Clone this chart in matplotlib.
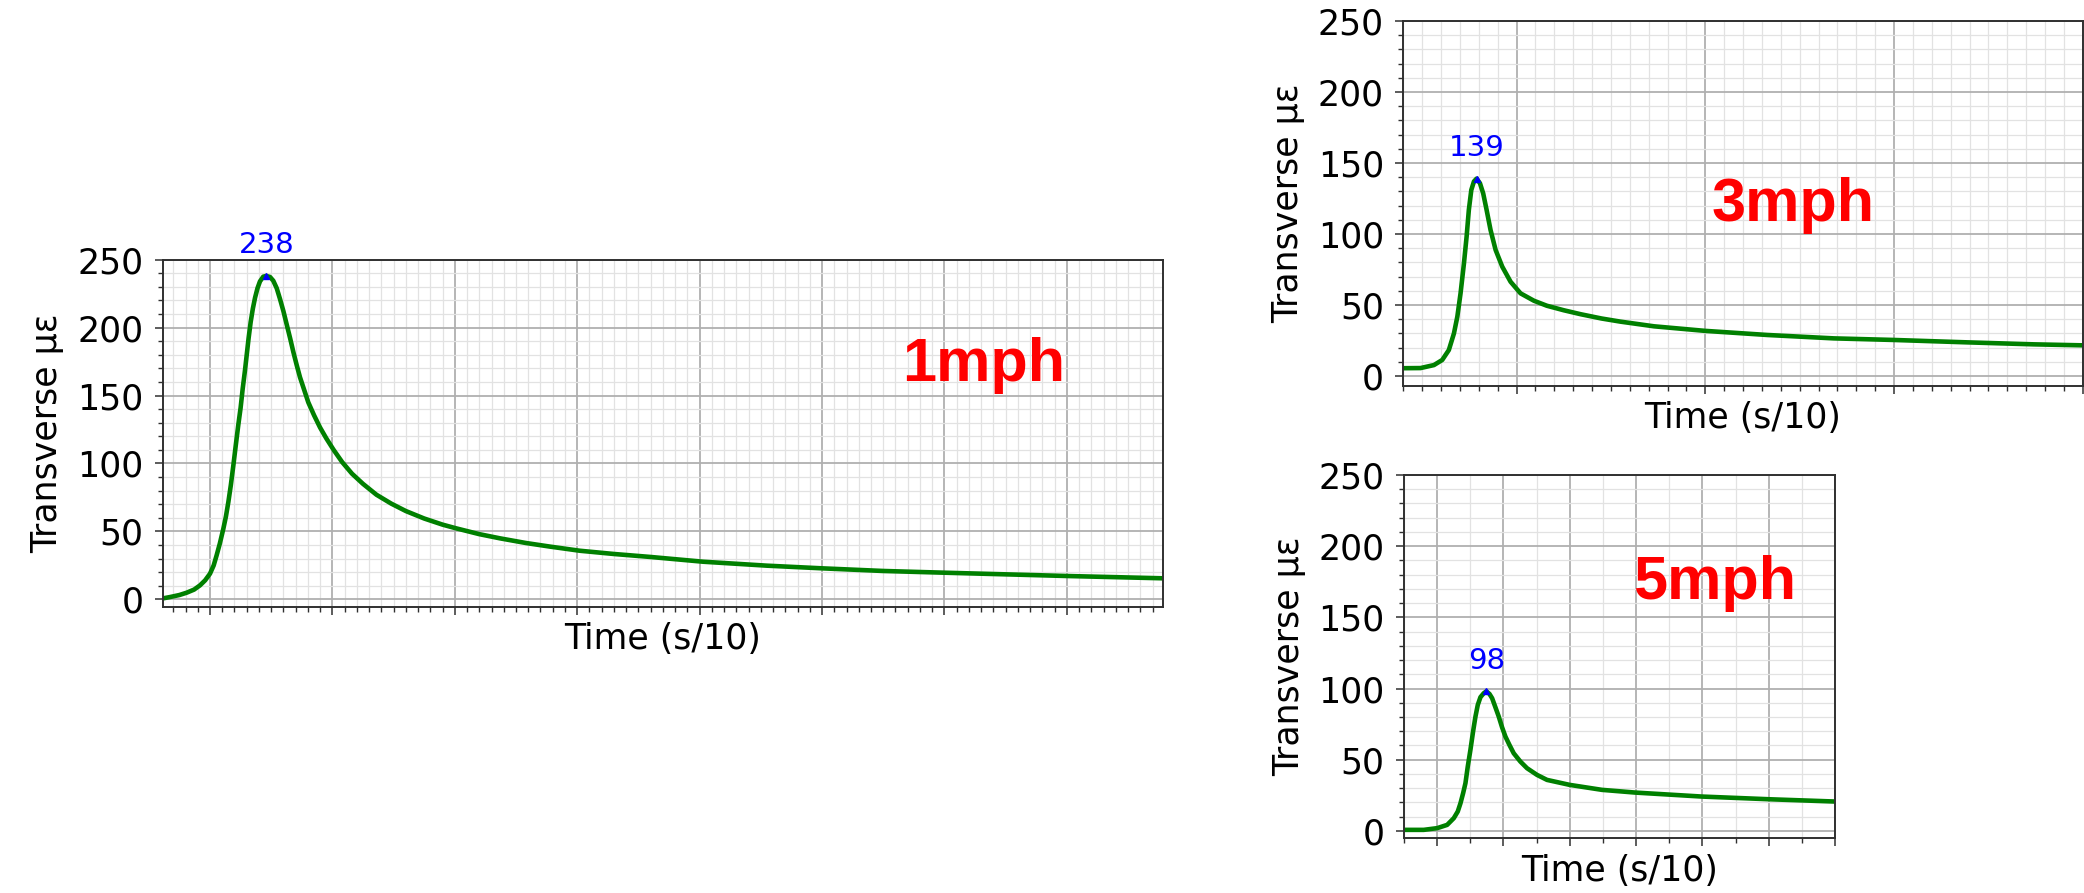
import matplotlib.pyplot as plt
from matplotlib.ticker import MultipleLocator
import numpy as np

plt.rcParams['font.family'] = 'DejaVu Sans'

# values (time in s/10, strain in micro-strain)
time_1mph = [0.614, 0.673, 0.75, 0.809, 0.87, 0.918, 0.96, 1.0, 1.03, 1.054,
             1.08, 1.109, 1.13, 1.15, 1.17, 1.191, 1.21, 1.231, 1.25, 1.267,
             1.285, 1.30, 1.315, 1.332, 1.35, 1.368, 1.388, 1.408, 1.435, 1.46,
             1.49, 1.517, 1.545, 1.572, 1.60, 1.626, 1.655, 1.681, 1.708, 1.735,
             1.77, 1.803, 1.85, 1.899, 1.95, 2.01, 2.08, 2.16, 2.25, 2.36,
             2.48, 2.6, 2.75, 2.9, 3.01, 3.2, 3.37, 3.58, 3.78, 4.02,
             4.3, 4.6, 5.03, 5.55, 6.01, 6.5, 7.01, 7.59, 8.0, 8.788]
strain_1mph = [0.7, 1.7, 3.2, 4.9, 7.2, 10.3, 14, 18.9, 25, 32.4,
               41, 52, 61, 71.7, 84, 98.8, 113, 128.3, 141, 155,
               168, 180, 192, 204, 214, 222, 229, 234, 237.5, 238,
               237.3, 234.5, 229, 221, 212, 202.5, 192, 182, 172.5, 163.5,
               154, 145, 135.5, 126.5, 118.5, 110, 101, 92.5, 85, 77,
               70.5, 65, 59.5, 55, 52.3, 48, 44.9, 41.5, 38.8, 35.8,
               33.4, 31.2, 27.7, 24.8, 22.8, 20.9, 19.6, 18.2, 17.2, 15.5]

time_3mph = [0.4, 0.491, 0.562, 0.606, 0.641, 0.668, 0.686, 0.703, 0.721, 0.735,
             0.747, 0.760, 0.774, 0.788, 0.806, 0.823, 0.841, 0.862, 0.889, 0.924,
             0.968, 1.021, 1.092, 1.16, 1.25, 1.34, 1.45, 1.55, 1.728, 1.998,
             2.328, 2.681, 2.996, 3.388, 3.741, 4.0]
strain_3mph = [5.5, 5.6, 7.7, 11.3, 18.3, 30, 41.8, 58.2, 79.3, 98,
               117, 131, 137, 139, 135.7, 128.6, 117, 102.8, 88.7, 77,
               66.4, 58.2, 53, 49.5, 46.3, 43.5, 40.5, 38.3, 35, 31.8,
               28.9, 26.5, 25.4, 23.7, 22.3, 21.6]

time_5mph = [0.5, 0.798, 1.0, 1.151, 1.251, 1.311, 1.352, 1.392, 1.427, 1.462,
             1.502, 1.542, 1.578, 1.613, 1.653, 1.703, 1.743, 1.789, 1.829, 1.879,
             1.929, 1.979, 2.03, 2.09, 2.155, 2.255, 2.356, 2.507, 2.657, 2.999,
             3.486, 3.987, 4.992, 6.01, 7.0]
strain_5mph = [0.7, 0.7, 1.9, 4.2, 8.9, 13.6, 19.4, 26.5, 33.5, 45.2,
               56.9, 69.8, 80.3, 88.5, 93.9, 96.7, 98, 96.2, 93.2, 86.8,
               80.3, 72.8, 66.2, 60.4, 54.5, 48.7, 44, 39.3, 35.8, 32.3,
               28.8, 26.9, 24.1, 22.2, 20.6]

fig = plt.figure(figsize=(20.84, 8.93), dpi=100)


def strain_panel(rect, t, strain, speed, xlim, ybottom, xminor, label_xy):
    ax = fig.add_axes(rect)
    ax.plot(t, strain, color='green', lw=3.3, solid_joinstyle='round')

    i = int(np.argmax(strain))
    ax.plot(t[i], strain[i], '^', color='blue', ms=5)
    ax.annotate(f'{strain[i]:.0f}', (t[i], strain[i]), xytext=(0, 12),
                textcoords='offset points', ha='center', va='bottom',
                color='blue', fontsize=21)

    ax.set_xlim(*xlim)
    ax.set_ylim(ybottom, 250)
    ax.xaxis.set_major_locator(MultipleLocator(1))
    ax.xaxis.set_minor_locator(MultipleLocator(xminor))
    ax.yaxis.set_major_locator(MultipleLocator(50))
    ax.yaxis.set_minor_locator(MultipleLocator(10))

    ax.grid(which='major', color='#b0b0b0', lw=1.3)
    ax.grid(which='minor', color='#e2e2e2', lw=0.9)
    ax.set_axisbelow(True)

    ax.tick_params(labelbottom=False)
    ax.tick_params(which='major', length=6, width=1.1, labelsize=25, pad=8,
                   color='#303030')
    ax.tick_params(which='minor', length=3.6, width=1, color='#303030')
    for s in ax.spines.values():
        s.set_linewidth(1.4)
        s.set_color('#303030')

    ax.set_xlabel('Time (s/10)', fontsize=25)
    ax.set_ylabel('Transverse με', fontsize=25, labelpad=9)
    ax.text(label_xy[0], label_xy[1], speed, transform=ax.transAxes,
            color='red', fontsize=44, fontweight='bold',
            family='Liberation Sans', ha='left', va='baseline')
    return ax


strain_panel([0.0781, 0.3206, 0.4801, 0.3886], time_1mph, strain_1mph, '1mph',
             (0.614, 8.788), -5.4, 0.1, (0.739, 0.649))
strain_panel([0.6734, 0.5678, 0.3260, 0.4087], time_3mph, strain_3mph, '3mph',
             (0.4, 4.0), -7, 0.1, (0.454, 0.453))
strain_panel([0.6737, 0.0613, 0.2068, 0.4068], time_5mph, strain_5mph, '5mph',
             (0.5, 7.0), -5.2, 0.5, (0.532, 0.658))

fig.savefig('out.png', dpi=100)
